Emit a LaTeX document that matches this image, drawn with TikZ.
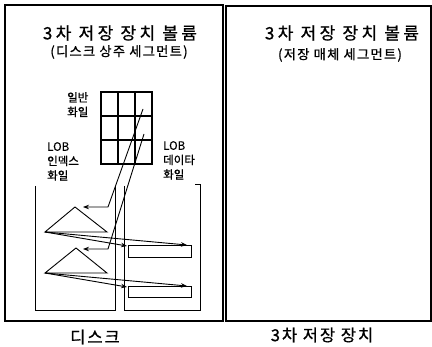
\documentclass[tikz,border=0pt]{standalone}
\usepackage{fontspec}
\setmainfont{Noto Sans CJK KR}[FakeBold=0.8]
\newfontfamily\titlefont{Noto Sans CJK KR}[LetterSpace=20,FakeBold=0.8]
\newfontfamily\subfont{Noto Sans CJK KR}[LetterSpace=10,FakeBold=1]
\newfontfamily\capfont{Noto Sans CJK KR}[LetterSpace=12,FakeBold=0.8]
\usetikzlibrary{arrows.meta}
\begin{document}
\begin{tikzpicture}[x=1pt,y=-1pt,
  box/.style={draw=black,line width=1.1pt},
  thinline/.style={draw=black,line width=0.9pt},
  arr/.style={draw=black,line width=0.9pt,-{Stealth[length=6pt,width=4.5pt]}},
  titletext/.style={font=\titlefont\fontsize{17}{19}\selectfont,inner sep=0pt},
  subtext/.style={font=\subfont\fontsize{13.2}{15}\selectfont,inner sep=0pt},
  labtext/.style={font=\fontsize{11.5}{14.5}\selectfont,inner sep=0pt,align=left},
  captext/.style={font=\capfont\fontsize{16.5}{18}\selectfont,inner sep=0pt}]
\useasboundingbox (0,0) rectangle (432,347);
% outer volumes
\draw[box] (5,5) rectangle (223,321);
\draw[box] (226,6) rectangle (431,321);
% titles
\node[titletext] (t1) at (120,33) {3차 저장 장치 볼륨};
\node[subtext] (s1) at (119,52) {(디스크 상주 세그먼트)};
\node[titletext] (t2) at (342,33) {3차 저장 장치 볼륨};
\node[subtext] (s2) at (340,55) {(저장 매체 세그먼트)};
\node[captext] (c1) at (95,337) {디스크};
\node[captext] (c2) at (322,335) {3차 저장 장치};
% general file grid
\draw[box] (101,92) rectangle (152,164);
\draw[box] (118,92) -- (118,164) (135,92) -- (135,164)
           (101,116) -- (152,116) (101,140) -- (152,140);
\node[labtext,anchor=north west] (gf) at (67,92) {일반\\화일};
\node[labtext,anchor=north west] (li) at (47,142) {LOB\\인덱스\\화일};
\node[labtext,anchor=north west] (ld) at (163,141) {LOB\\데이타\\화일};
% inner containers
\draw[thinline] (35,186) -- (35,310) -- (115,310) -- (115,186);
\draw[thinline] (124,186) -- (124,310) -- (200,310) -- (200,184) -- (195,184);
% index trees
\coordinate (a1) at (75,207);
\coordinate (b1) at (45,232);
\coordinate (a2) at (76,248);
\coordinate (b2) at (45,273);
\draw[thinline] (b1) -- (a1) -- (107,232) -- cycle;
\draw[thinline] (b2) -- (a2) -- (107,273) -- cycle;
% data segments
\draw[thinline] (128,245) rectangle (191,257);
\draw[thinline] (128,286) rectangle (191,297);
\coordinate (r1l) at (127,246);
\coordinate (r1r) at (187,245);
\coordinate (r2l) at (127,287);
\coordinate (r2r) at (187,286);
\draw[arr] (b1) -- (r1l);
\draw[arr] (b1) -- (r1r);
\draw[arr] (b2) -- (r2l);
\draw[arr] (b2) -- (r2r);
% pointers from grid to index trees
\coordinate (g1) at (143,109);
\coordinate (g2) at (144,134);
\draw[arr] (g1) -- (108,207) -- (83,207);
\draw[arr] (g2) -- (108,249) -- (83,249);
\end{tikzpicture}
\end{document}
